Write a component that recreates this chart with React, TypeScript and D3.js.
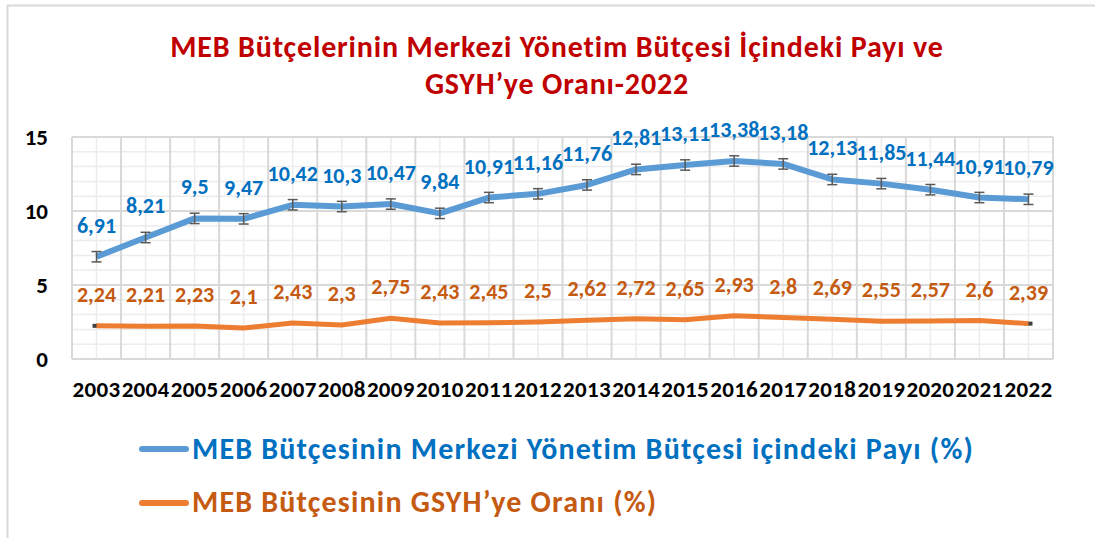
import React from "react";
import * as d3 from "d3";

const years = [2003, 2004, 2005, 2006, 2007, 2008, 2009, 2010, 2011, 2012, 2013, 2014, 2015, 2016, 2017, 2018, 2019, 2020, 2021, 2022];
const budgetShare = [6.91, 8.21, 9.5, 9.47, 10.42, 10.3, 10.47, 9.84, 10.91, 11.16, 11.76, 12.81, 13.11, 13.38, 13.18, 12.13, 11.85, 11.44, 10.91, 10.79];
const gdpShare = [2.24, 2.21, 2.23, 2.1, 2.43, 2.3, 2.75, 2.43, 2.45, 2.5, 2.62, 2.72, 2.65, 2.93, 2.8, 2.69, 2.55, 2.57, 2.6, 2.39];
const yTicks = [0, 5, 10, 15];
const errorAmount = 0.35;
const titleLines = ["MEB Bütçelerinin Merkezi Yönetim Bütçesi İçindeki Payı ve", "GSYH’ye Oranı-2022"];
const legendLabels = ["MEB Bütçesinin Merkezi Yönetim Bütçesi içindeki Payı (%)", "MEB Bütçesinin GSYH’ye Oranı (%)"];

const W = 1095, H = 538;
const plot = { left: 72, right: 1053, top: 137, bottom: 359 };
const FONT = "Calibri, Carlito, Lato, 'Open Sans', sans-serif";

const fmt = (v: number) => String(v).replace(".", ",");

export default function App() {
  const x = d3.scaleBand<number>().domain(years).range([plot.left, plot.right]).padding(0);
  const cx = (yr: number) => (x(yr) as number) + x.bandwidth() / 2;
  const y = d3.scaleLinear().domain([0, 15]).range([plot.bottom, plot.top]);
  const line = d3.line<number>().x((_, i) => cx(years[i])).y((d) => y(d));

  const minorY = d3.range(0, 16, 1).filter((v) => v % 5 !== 0);
  const bounds = years.map((yr) => x(yr) as number).concat([plot.right]);

  return (
    <svg width={W} height={H} style={{ position: "absolute", left: 0, top: 0, background: "#fff" }} fontFamily={FONT}>
      <rect x={0} y={0} width={W} height={H} fill="#fff" />
      {/* chart border */}
      <line x1={7} x2={W} y1={5.5} y2={5.5} stroke="#d9d9d9" strokeWidth={2} />
      <line x1={7.5} x2={7.5} y1={5} y2={H} stroke="#d9d9d9" strokeWidth={2} />

      {/* title */}
      {titleLines.map((t, i) => (
        <text key={i} x={557} y={57 + i * 37} textAnchor="middle" fontSize={30} letterSpacing={0.85} fontWeight="bold" fill="#C00000">{t}</text>
      ))}

      {/* minor grid */}
      {minorY.map((v) => (
        <line key={"my" + v} x1={plot.left} x2={plot.right} y1={y(v)} y2={y(v)} stroke="#ececec" strokeWidth={1.5} />
      ))}
      {years.map((yr) => (
        <line key={"mx" + yr} x1={cx(yr)} x2={cx(yr)} y1={plot.top} y2={plot.bottom} stroke="#ececec" strokeWidth={1.5} />
      ))}
      {/* major grid */}
      {yTicks.map((v) => (
        <line key={"gy" + v} x1={plot.left} x2={plot.right} y1={y(v)} y2={y(v)} stroke="#d9d9d9" strokeWidth={2} />
      ))}
      {bounds.map((bx, i) => (
        <line key={"gx" + i} x1={bx} x2={bx} y1={plot.top} y2={plot.bottom} stroke="#d9d9d9" strokeWidth={2} />
      ))}

      {/* y tick labels */}
      {yTicks.map((v) => (
        <text key={"yt" + v} x={48} y={y(v) + 8} textAnchor="end" fontSize={23} fontWeight="bold" fill="#000">{v}</text>
      ))}
      {/* x tick labels */}
      {years.map((yr) => (
        <text key={"xt" + yr} x={cx(yr)} y={397} textAnchor="middle" fontSize={23} letterSpacing={0.3} fontWeight="bold" fill="#000">{yr}</text>
      ))}

      {/* orange end caps */}
      <line x1={cx(years[0]) - 4} x2={cx(years[0]) + 2} y1={y(gdpShare[0])} y2={y(gdpShare[0])} stroke="#404040" strokeWidth={4} />
      <line x1={cx(years[years.length - 1]) - 2} x2={cx(years[years.length - 1]) + 4} y1={y(gdpShare[gdpShare.length - 1])} y2={y(gdpShare[gdpShare.length - 1])} stroke="#404040" strokeWidth={4} />

      {/* lines */}
      <path d={line(gdpShare) as string} fill="none" stroke="#ED7D31" strokeWidth={5} strokeLinejoin="round" />
      <path d={line(budgetShare) as string} fill="none" stroke="#5B9BD5" strokeWidth={6} strokeLinejoin="round" />

      {/* error bars on blue series */}
      {budgetShare.map((v, i) => {
        const px = cx(years[i]);
        const y1 = y(v + errorAmount), y2 = y(v - errorAmount);
        return (
          <g key={"eb" + i} stroke="#595959" strokeWidth={1.5}>
            <line x1={px} x2={px} y1={y1} y2={y2} />
            <line x1={px - 5} x2={px + 5} y1={y1} y2={y1} />
            <line x1={px - 5} x2={px + 5} y1={y2} y2={y2} />
          </g>
        );
      })}

      {/* data labels */}
      {budgetShare.map((v, i) => (
        <text key={"bl" + i} x={cx(years[i])} y={y(v) - 24} textAnchor="middle" fontSize={22} fontWeight="bold" fill="#0070C0">{fmt(v)}</text>
      ))}
      {gdpShare.map((v, i) => (
        <text key={"gl" + i} x={cx(years[i])} y={y(v) - 24} textAnchor="middle" fontSize={22} fontWeight="bold" fill="#C55A11">{fmt(v)}</text>
      ))}

      {/* legend */}
      <line x1={142} x2={186} y1={449} y2={449} stroke="#5B9BD5" strokeWidth={6} strokeLinecap="round" />
      <text x={192} y={459} fontSize={30} letterSpacing={1.2} fontWeight="bold" fill="#0070C0">{legendLabels[0]}</text>
      <line x1={142} x2={186} y1={503} y2={503} stroke="#ED7D31" strokeWidth={6} strokeLinecap="round" />
      <text x={192} y={512} fontSize={30} letterSpacing={1.2} fontWeight="bold" fill="#C55A11">{legendLabels[1]}</text>
    </svg>
  );
}
